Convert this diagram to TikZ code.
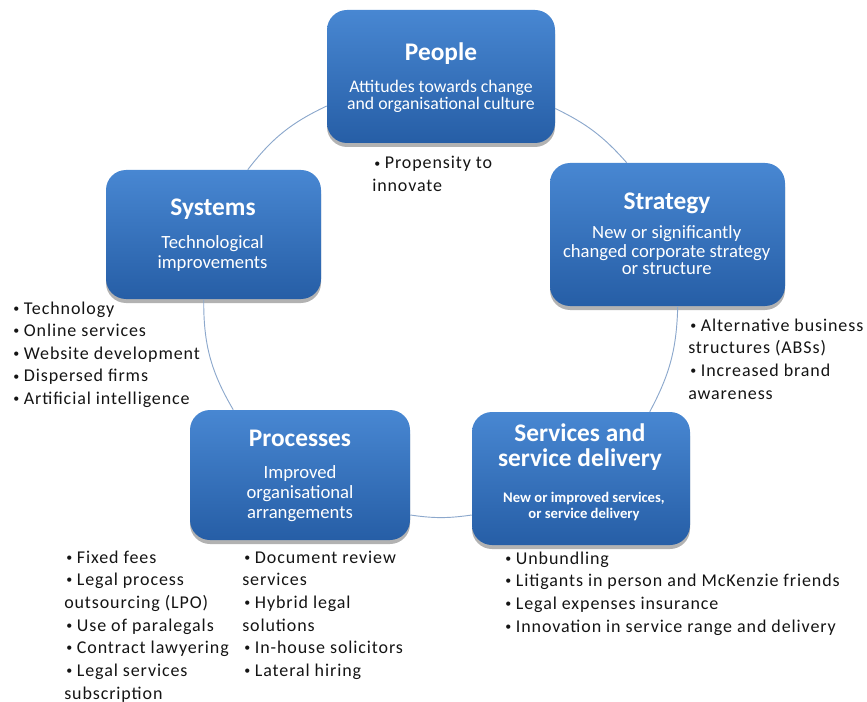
\documentclass[tikz,border=0pt]{standalone}
\usepackage{fontspec}
\setmainfont{Carlito}
\newfontfamily\bulletfont[LetterSpace=5]{Carlito}
\usetikzlibrary{calc,shadows}
\definecolor{boxtop}{RGB}{72,135,210}
\definecolor{boxbot}{RGB}{38,94,166}
\definecolor{arcc}{RGB}{140,168,204}
\definecolor{bultxt}{RGB}{20,20,20}
\newcommand{\cstk}[1]{\vtop{\lineskiplimit=-1000pt\let\\\cr\halign{\hfil##\hfil\cr#1\crcr}}}
\newcommand{\lstk}[1]{\vtop{\lineskiplimit=-1000pt\let\\\cr\halign{##\hfil\cr#1\crcr}}}
\newcommand{\bt}{\hspace{1.5pt}{\fontsize{9}{9}\selectfont\raisebox{0.3ex}{•}}\hspace{3.5pt}}
\begin{document}
\begin{tikzpicture}[x=0.75pt,y=-0.75pt,
  box/.style={rounded corners=15pt, top color=boxtop, bottom color=boxbot, draw=none, inner sep=0pt,
     drop shadow={shadow xshift=0pt, shadow yshift=-3pt, opacity=0.3, fill=black}},
  ttl/.style={anchor=base, inner sep=0pt, text=white, font=\bfseries\fontsize{19}{18.75}\selectfont},
  sub/.style={anchor=base, inner sep=0pt, text=white},
  bul/.style={anchor=base west, inner sep=0pt, text=bultxt, font=\bulletfont\fontsize{13.5}{17}\selectfont},
  cyc/.style={draw=arcc, line width=0.7pt}]
\useasboundingbox (0,0) rectangle (867,702);

% boxes
\node[box, minimum width=171pt, minimum height=99.75pt] (people) at (441,76.5) {};
\node[box, minimum width=161.25pt, minimum height=96.75pt] (systems) at (213.5,234.5) {};
\node[box, minimum width=176.25pt, minimum height=107.25pt] (strategy) at (667.5,234.5) {};
\node[box, minimum width=165pt, minimum height=97.5pt] (processes) at (300,475) {};
\node[box, minimum width=163.5pt, minimum height=99.75pt] (services) at (581,478.5) {};

% cycle arcs
\draw[cyc] ($(people.west)+(0,29.5)$) to[bend right=13.6] ($(systems.north west)+(142,0)$);
\draw[cyc] ($(systems.south west)+(98,0)$) to[bend right=15.4] ($(processes.north west)+(43.5,0)$);
\draw[cyc] ($(processes.east)+(0,40)$) to[bend right=8.25] ($(services.west)+(0,36.5)$);
\draw[cyc] ($(services.north west)+(178,0)$) to[bend right=13.35] ($(strategy.south west)+(128,0)$);
\draw[cyc] ($(strategy.north west)+(77,0)$) to[bend right=11.3] ($(people.east)+(0,32)$);

% titles
\node[ttl] (peopleT) at (441,61) {People};
\node[ttl] (systemsT) at (213,216) {Systems};
\node[ttl] (strategyT) at (667,210) {Strategy};
\node[ttl] (processesT) at (300,446) {Processes};
\node[ttl] (servicesT) at (580,441) {\cstk{Services and\\service delivery}};

% subtitles
\node[sub, font=\fontsize{13.3}{12.75}\selectfont] (peopleS) at (441,93) {\cstk{Attitudes towards change\\and organisational culture}};
\node[sub, font=\fontsize{14}{15}\selectfont] (systemsS) at (212.5,248) {\cstk{Technological\\improvements}};
\node[sub, font=\fontsize{14}{13.5}\selectfont] (strategyS) at (666.7,239) {\cstk{New or significantly\\changed corporate strategy\\or structure}};
\node[sub, font=\fontsize{14}{15}\selectfont] (processesS) at (300,478) {\cstk{Improved\\organisational\\arrangements}};
\node[sub, font=\bfseries\fontsize{11}{12}\selectfont] (servicesS) at (584,502) {\cstk{New or improved services,\\or service delivery}};

% bullet lists
\node[bul] (peopleB) at (372,169) {\lstk{\bt Propensity to\\innovate}};
\node[bul] (systemsB) at (11,314) {\lstk{\bt Technology\\\bt Online services\\\bt Website development\\\bt Dispersed firms\\\bt Artificial intelligence}};
\node[bul] (strategyB) at (688,331) {\lstk{\bt Alternative business\\structures (ABSs)\\\bt Increased brand\\awareness}};
\node[bul] (processesB1) at (64,563) {\lstk{\bt Fixed fees\\\bt Legal process\\outsourcing (LPO)\\\bt Use of paralegals\\\bt Contract lawyering\\\bt Legal services\\subscription}};
\node[bul] (processesB2) at (242,563) {\lstk{\bt Document review\\services\\\bt Hybrid legal\\solutions\\\bt In-house solicitors\\\bt Lateral hiring}};
\node[bul] (servicesB) at (503,564) {\lstk{\bt Unbundling\\\bt Litigants in person and McKenzie friends\\\bt Legal expenses insurance\\\bt Innovation in service range and delivery}};
\end{tikzpicture}
\end{document}
